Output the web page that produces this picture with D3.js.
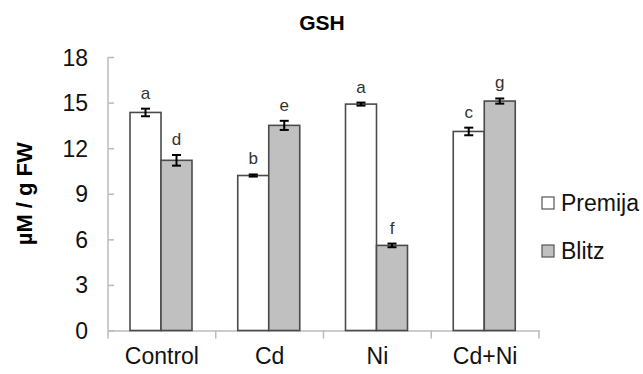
<!DOCTYPE html>
<html>
<head>
<meta charset="utf-8">
<script src="https://cdn.jsdelivr.net/npm/d3@7"></script>
<style>
  body { margin: 0; background: #fff; }
  svg { font-family: "Liberation Sans", Arial, sans-serif; }
</style>
</head>
<body>
<svg id="chart" width="643" height="374"></svg>
<script>
// data
const categories = ["Control", "Cd", "Ni", "Cd+Ni"];
const seriesNames = ["Premija", "Blitz"];
const premija = [14.35, 10.2, 14.9, 13.1];
const blitz = [11.2, 13.5, 5.6, 15.1];
const premijaErr = [0.25, 0.07, 0.1, 0.25];
const blitzErr = [0.35, 0.3, 0.12, 0.17];
const premijaLetters = ["a", "b", "a", "c"];
const blitzLetters = ["d", "e", "f", "g"];
const yTicks = [0, 3, 6, 9, 12, 15, 18];

const colors = { Premija: "#ffffff", Blitz: "#c0c0c0" };

const svg = d3.select("#chart");
const margin = { left: 108, right: 104, top: 57, bottom: 43.5 };
const W = 643, H = 374;

const x = d3.scaleBand().domain(categories).range([margin.left, W - margin.right]);
const y = d3.scaleLinear().domain([0, 18]).range([H - margin.bottom, margin.top]);

// bars sit inside each band: 22px in, 31px wide each
const barW = 31, barOffset = 22;

const rows = categories.map((c, i) => [
    { cat: c, s: "Premija", v: premija[i], e: premijaErr[i], l: premijaLetters[i], k: 0 },
    { cat: c, s: "Blitz", v: blitz[i], e: blitzErr[i], l: blitzLetters[i], k: 1 }
]).flat();

// y axis
const yAxis = svg.append("g")
    .attr("transform", `translate(${margin.left},0)`)
    .call(d3.axisLeft(y).tickValues(yTicks).tickSize(-6).tickPadding(20));
yAxis.select(".domain").attr("stroke", "#bbb").attr("stroke-width", 1.5).attr("d", `M-0,${y(18)}V${y(0)}`);
yAxis.selectAll(".tick line").attr("stroke", "#bbb").attr("stroke-width", 1.5);
yAxis.selectAll(".tick text").attr("font-size", 23).attr("fill", "#111").attr("dy", "0.35em");

// x axis
const xAxis = svg.append("g")
    .attr("transform", `translate(0,${y(0)})`)
    .call(d3.axisBottom(x).tickSize(0).tickPadding(17));
xAxis.select(".domain").attr("stroke", "#bbb").attr("stroke-width", 1.5);
xAxis.selectAll(".tick text").attr("font-size", 23).attr("fill", "#111");
// ticks at band boundaries
const bounds = categories.map(c => x(c)).concat([x(categories[categories.length - 1]) + x.bandwidth()]);
xAxis.selectAll("line.sep").data(bounds).enter().append("line")
    .attr("class", "sep")
    .attr("x1", d => d).attr("x2", d => d)
    .attr("y1", 0).attr("y2", 8)
    .attr("stroke", "#bbb").attr("stroke-width", 1.5);

// bars
svg.append("g").selectAll("rect").data(rows).enter().append("rect")
    .attr("x", d => x(d.cat) + barOffset + d.k * barW)
    .attr("width", barW)
    .attr("y", d => y(d.v))
    .attr("height", d => y(0) - y(d.v))
    .attr("fill", d => colors[d.s])
    .attr("stroke", "#4a4a4a")
    .attr("stroke-width", 1.6);

// error bars
const eg = svg.append("g").attr("stroke", "#000").attr("stroke-width", 2);
rows.forEach(d => {
    const cx = x(d.cat) + barOffset + d.k * barW + barW / 2;
    eg.append("line").attr("x1", cx).attr("x2", cx).attr("y1", y(d.v + d.e)).attr("y2", y(d.v - d.e));
    [d.v + d.e, d.v - d.e].forEach(v => {
        eg.append("line").attr("x1", cx - 4.5).attr("x2", cx + 4.5).attr("y1", y(v)).attr("y2", y(v));
    });
});

// significance letters
svg.append("g").selectAll("text").data(rows).enter().append("text")
    .attr("x", d => x(d.cat) + barOffset + d.k * barW + barW / 2)
    .attr("y", d => y(d.v + d.e) - 10)
    .attr("text-anchor", "middle")
    .attr("font-size", 17)
    .attr("fill", "#333")
    .text(d => d.l);

// title
svg.append("text")
    .attr("x", 322).attr("y", 30)
    .attr("text-anchor", "middle")
    .attr("font-size", 21).attr("font-weight", "bold")
    .text("GSH");

// y label
svg.append("text")
    .attr("transform", `translate(32,${(y(0) + y(18)) / 2}) rotate(-90)`)
    .attr("text-anchor", "middle")
    .attr("font-size", 22).attr("font-weight", "bold")
    .text("µM / g FW");

// legend
const lg = svg.append("g").attr("transform", "translate(542,197)");
seriesNames.forEach((s, i) => {
    const g = lg.append("g").attr("transform", `translate(0,${i * 48})`);
    g.append("rect").attr("width", 12).attr("height", 12)
        .attr("fill", colors[s]).attr("stroke", "#555").attr("stroke-width", 1.2);
    g.append("text").attr("x", 19).attr("y", 14)
        .attr("font-size", 23).attr("fill", "#111").text(s);
});
</script>
</body>
</html>
